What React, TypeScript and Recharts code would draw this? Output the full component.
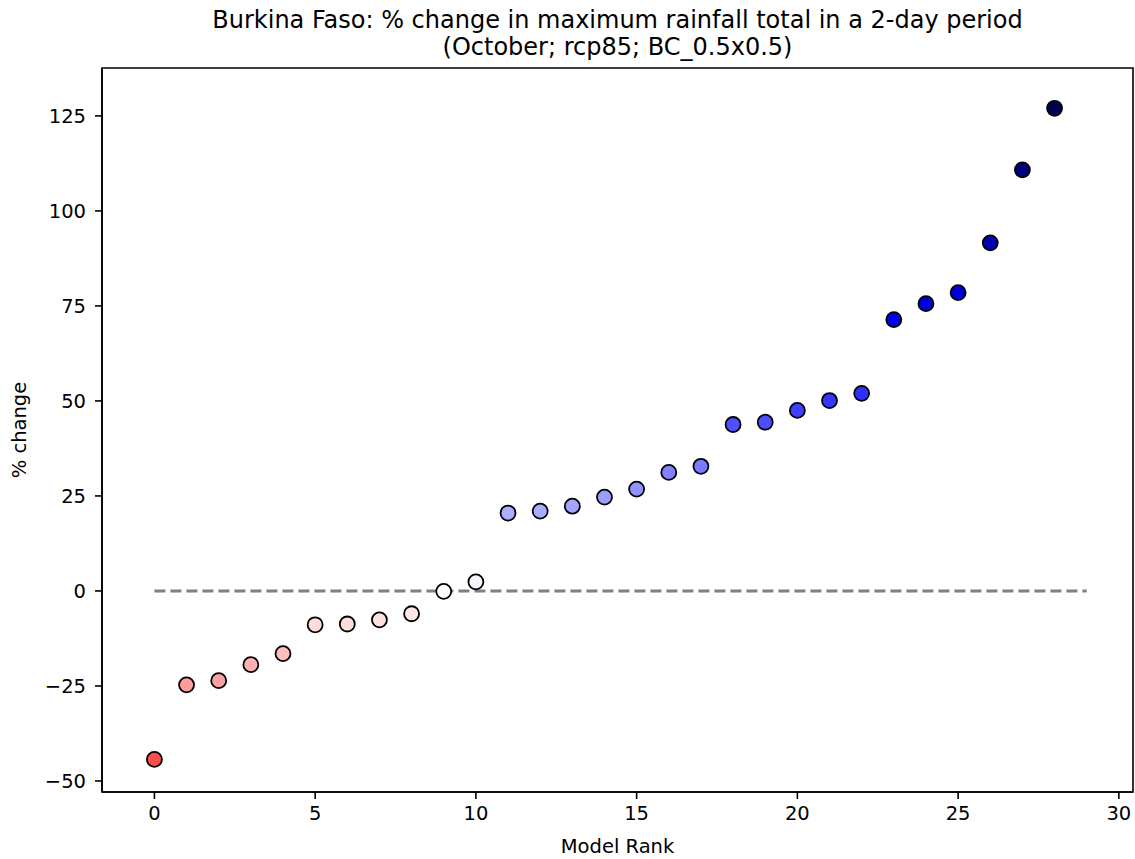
import React from 'react';
import { ScatterChart, Scatter, XAxis, YAxis, ReferenceLine, ReferenceArea } from 'recharts';

// model rank (x) and % change in max 2-day rainfall (y)
const modelRanks = [
  0, 1, 2, 3, 4, 5, 6, 7, 8, 9, 10, 11, 12, 13, 14,
  15, 16, 17, 18, 19, 20, 21, 22, 23, 24, 25, 26, 27, 28,
];
const pctChange = [
  -44.3, -24.7, -23.6, -19.4, -16.5, -8.9, -8.7, -7.6, -6.0, -0.1, 2.4,
  20.5, 21.0, 22.3, 24.7, 26.8, 31.2, 32.8, 43.8, 44.4, 47.5, 50.1, 52.0,
  71.4, 75.6, 78.5, 91.6, 110.8, 127.0,
];
const xTicks = [0, 5, 10, 15, 20, 25, 30];
const yTicks = [-50, -25, 0, 25, 50, 75, 100, 125];
const zeroLine = [{ x: 0, y: 0 }, { x: 29, y: 0 }];

const data = modelRanks.map((x, i) => ({ x, y: pctChange[i] }));

const FONT = '"DejaVu Sans", sans-serif';
const W = 1135;
const H = 859;
const X_DOMAIN: [number, number] = [-1.63, 30.44];
const Y_DOMAIN: [number, number] = [-52.9, 137.6];

// reversed "seismic" colormap, symmetric around zero
function seismicR(v: number) {
  const t = Math.max(-1, Math.min(1, v / 127));
  const a = Math.abs(t);
  let r = 255, g = 255, b = 255;
  if (t < 0) {
    if (a <= 0.5) {
      const f = a / 0.5;
      g = b = 255 * (1 - f);
    } else {
      const f = (a - 0.5) / 0.5;
      r = 255 * (1 - 0.5 * f);
      g = b = 0;
    }
  } else {
    if (a <= 0.5) {
      const f = a / 0.5;
      r = g = 255 * (1 - f);
    } else {
      const f = (a - 0.5) / 0.5;
      r = g = 0;
      b = 255 * (1 - 0.7 * f);
    }
  }
  return `rgb(${Math.round(r)},${Math.round(g)},${Math.round(b)})`;
}

const Dot = (props: any) => {
  const { cx, cy, payload } = props;
  return (
    <circle cx={cx} cy={cy} r={7.5} fill={seismicR(payload.y)} stroke="#000" strokeWidth={1.8} />
  );
};

const minus = (v: number) => String(v).replace('-', '\u2212');
const tickStyle = { fill: '#000', fontSize: 19.5, fontFamily: FONT };

export default function App() {
  return (
    <div style={{ position: 'absolute', left: 0, top: 0, width: W, height: H, background: '#fff', fontFamily: FONT }}>
      <div
        style={{
          position: 'absolute', left: 102, top: 7, width: 1031, textAlign: 'center',
          fontSize: 24, lineHeight: '27px', color: '#000',
        }}
      >
        <div>Burkina Faso: % change in maximum rainfall total in a 2-day period</div>
        <div>(October; rcp85; BC_0.5x0.5)</div>
      </div>
      <div
        style={{
          position: 'absolute', left: 102, top: 836, width: 1031, textAlign: 'center',
          fontSize: 19.5, lineHeight: '22px', color: '#000',
        }}
      >
        Model Rank
      </div>
      <div
        style={{
          position: 'absolute', left: 20, top: 430, transform: 'translate(-50%, -50%) rotate(-90deg)',
          fontSize: 19.5, lineHeight: '22px', color: '#000', whiteSpace: 'nowrap',
        }}
      >
        % change
      </div>
      <ScatterChart width={W} height={H} margin={{ top: 68, right: 2, bottom: 0, left: 0 }}>
        <XAxis
          type="number"
          dataKey="x"
          domain={X_DOMAIN}
          ticks={xTicks}
          allowDataOverflow
          height={67}
          tickSize={7}
          tickMargin={7}
          tick={tickStyle}
          tickFormatter={minus}
          axisLine={{ stroke: '#000', strokeWidth: 1.6 }}
          tickLine={{ stroke: '#000', strokeWidth: 1.6 }}
        />
        <YAxis
          type="number"
          dataKey="y"
          domain={Y_DOMAIN}
          ticks={yTicks}
          allowDataOverflow
          width={102}
          tickSize={7}
          tickMargin={9}
          tick={tickStyle}
          tickFormatter={minus}
          axisLine={{ stroke: '#000', strokeWidth: 1.6 }}
          tickLine={{ stroke: '#000', strokeWidth: 1.6 }}
        />
        <ReferenceLine
          segment={zeroLine}
          stroke="#808080"
          strokeWidth={3}
          strokeDasharray="11 5"
        />
        <Scatter data={data} shape={Dot} isAnimationActive={false} />
        <ReferenceArea
          x1={X_DOMAIN[0]}
          x2={X_DOMAIN[1]}
          y1={Y_DOMAIN[0]}
          y2={Y_DOMAIN[1]}
          ifOverflow="visible"
          fill="none"
          fillOpacity={0}
          stroke="#000"
          strokeWidth={1.6}
        />
      </ScatterChart>
    </div>
  );
}
